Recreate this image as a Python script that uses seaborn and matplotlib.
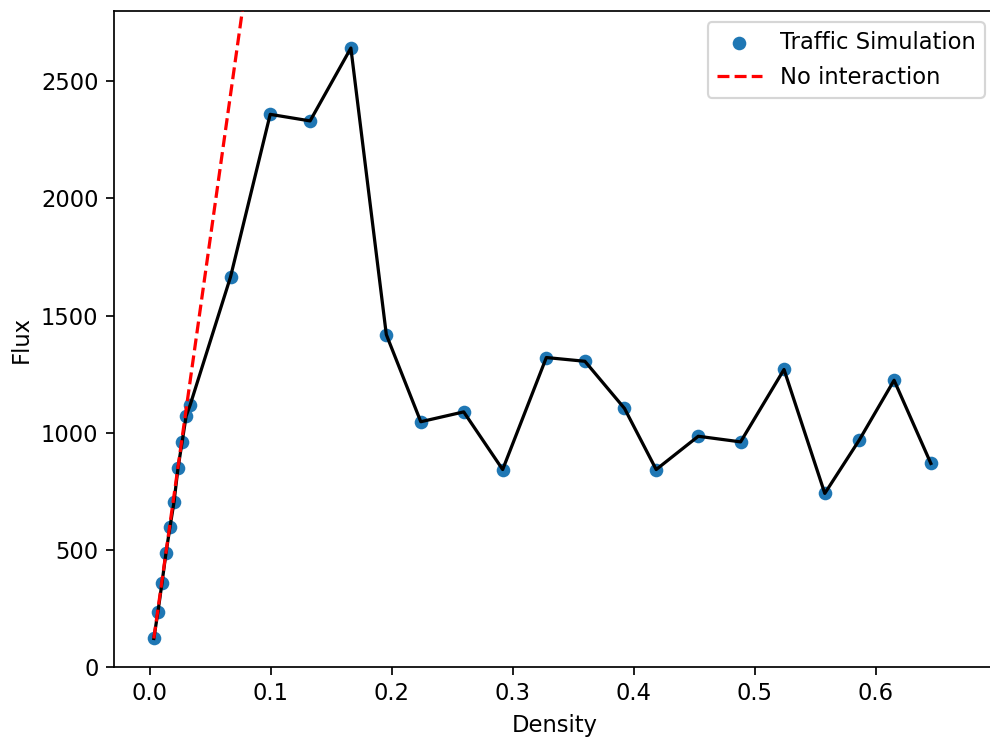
import matplotlib
matplotlib.use("Agg")
import matplotlib.pyplot as plt
import seaborn as sns
import pandas as pd

# simulated traffic: density vs flux
density = [0.0033, 0.0067, 0.0100, 0.0133, 0.0167, 0.0200, 0.0233, 0.0267, 0.0300, 0.0333,
           0.0667, 0.0995, 0.1325, 0.1662, 0.1955, 0.2240, 0.2595, 0.2917, 0.3278, 0.3597,
           0.3924, 0.4186, 0.4534, 0.4884, 0.5243, 0.5580, 0.5864, 0.6153, 0.6457]
flux = [122, 236, 357, 485, 599, 705, 850, 961, 1071, 1118,
        1665, 2359, 2331, 2642, 1419, 1047, 1089, 843, 1321, 1305,
        1104, 843, 985, 961, 1270, 741, 968, 1224, 869]

# free-flow line (no interaction), two end points
free_density = [0.0033, 0.0800]
free_flux = [122, 2930]

df = pd.DataFrame({"Density": density, "Flux": flux})
free_df = pd.DataFrame({"Density": free_density, "Flux": free_flux})

plt.rcParams["font.size"] = 10.5

fig = plt.figure(figsize=(990 / 155, 740 / 155), dpi=155)
ax = fig.add_axes([0.1147, 0.0986, 1.006 - 0.1147, 0.9851 - 0.0986])

sns.scatterplot(data=df, x="Density", y="Flux", ax=ax, s=40, color="#1f77b4",
                linewidth=0, label="Traffic Simulation", zorder=2)
sns.lineplot(data=df, x="Density", y="Flux", ax=ax, color="black", sort=False,
             estimator=None, linewidth=1.5, zorder=3)
sns.lineplot(data=free_df, x="Density", y="Flux", ax=ax, color="red", linestyle="--",
             sort=False, estimator=None, linewidth=1.5, label="No interaction", zorder=4)

ax.set_xlim(-0.0300, 0.6995)
ax.set_ylim(0, 2800)
ax.set_xlabel("Density")
ax.set_ylabel("Flux")
ax.legend(loc="upper right")

fig.savefig("out.png", dpi=155)
plt.close("all")
